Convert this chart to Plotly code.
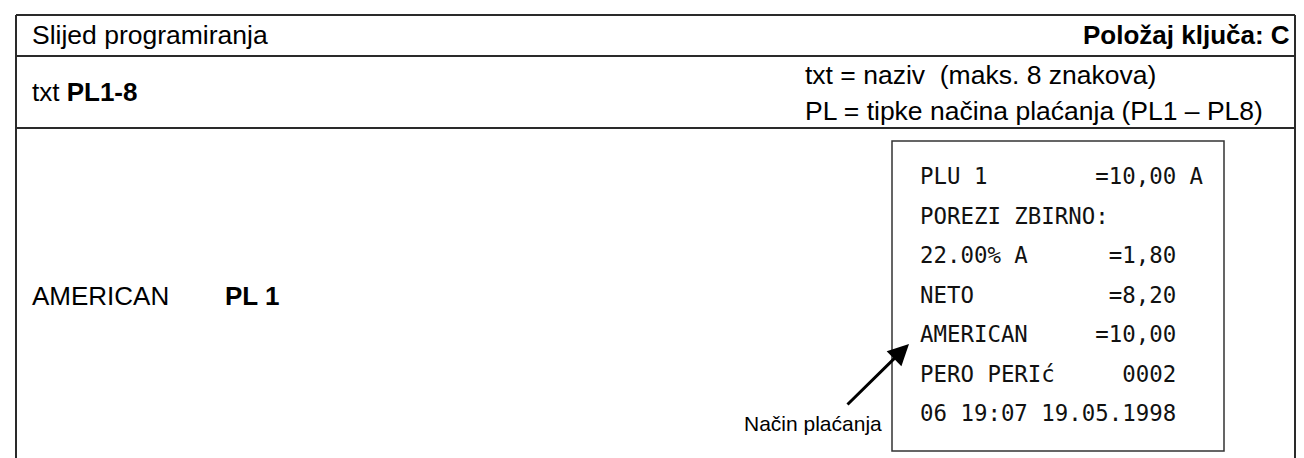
import plotly.graph_objects as go

W, H = 1304, 458

# ---- text content ----
header_left = "Slijed programiranja"
header_right = "<b>Položaj ključa: C</b>"
row2_left = "txt <b>PL1-8</b>"
row2_right = ["txt = naziv  (maks. 8 znakova)", "PL = tipke načina plaćanja (PL1 – PL8)"]
row3_left = ["AMERICAN", "<b>PL 1</b>"]
receipt_lines = [
    "PLU 1        =10,00 A",
    "POREZI ZBIRNO:",
    "22.00% A      =1,80",
    "NETO          =8,20",
    "AMERICAN     =10,00",
    "PERO PERIć     0002",
    "06 19:07 19.05.1998",
]
arrow_label = "Način plaćanja"

fig = go.Figure()
fig.add_trace(go.Scatter(x=[0, W], y=[0, H], mode="markers", marker=dict(opacity=0), hoverinfo="skip", showlegend=False))

LC = "#2a2a2a"
def line(x0, y0, x1, y1, w=2, c=LC):
    fig.add_shape(type="line", x0=x0, y0=y0, x1=x1, y1=y1, xref="x", yref="y", line=dict(color=c, width=w))

# table frame
line(8, 7, 1287, 7)
line(8, 48, 1298, 48)
line(8, 120, 1298, 120)
line(8, 7, 8, 458)
line(1287, 7, 1287, 458)
line(1298, 0, 1298, 458, w=1.5)
# receipt box
fig.add_shape(type="rect", x0=884, y0=133, x1=1216, y1=443, xref="x", yref="y", line=dict(color="#333", width=1.5))

F = "Liberation Sans, Arial, sans-serif"
def txt(x, y, s, size=26, anchor="left", font=F, color="#000"):
    fig.add_annotation(x=x, y=y, text=s, showarrow=False, xref="x", yref="y",
                       xanchor=anchor, yanchor="middle", font=dict(family=font, size=size, color=color))

txt(22, 27, header_left, size=26.5)
txt(1284, 27, header_right, anchor="right")
txt(22, 84, row2_left)
txt(795, 67, row2_right[0], size=26.5)
txt(795, 103, row2_right[1], size=26.5)
txt(22, 288, row3_left[0])
txt(215, 288, row3_left[1])

y0r, dy = 168, 39.5
for i, s in enumerate(receipt_lines):
    txt(910, y0r + i * dy, s.replace(" ", "\u00a0"), size=22.4, font="DejaVu Sans Mono, monospace", color="#111")

txt(876, 415, arrow_label, size=21, anchor="right")
fig.add_annotation(x=901, y=336, ax=838, ay=398, xref="x", yref="y", axref="x", ayref="y",
                   text="", showarrow=True, arrowhead=2, arrowsize=1.4, arrowwidth=3, arrowcolor="#000")

fig.update_xaxes(range=[0, W], visible=False, fixedrange=True)
fig.update_yaxes(range=[H, 0], visible=False, fixedrange=True)
fig.update_layout(width=W, height=H, margin=dict(l=0, r=0, t=0, b=0),
                  paper_bgcolor="white", plot_bgcolor="white", showlegend=False)
fig.write_html("out.html", config={"displayModeBar": False})
